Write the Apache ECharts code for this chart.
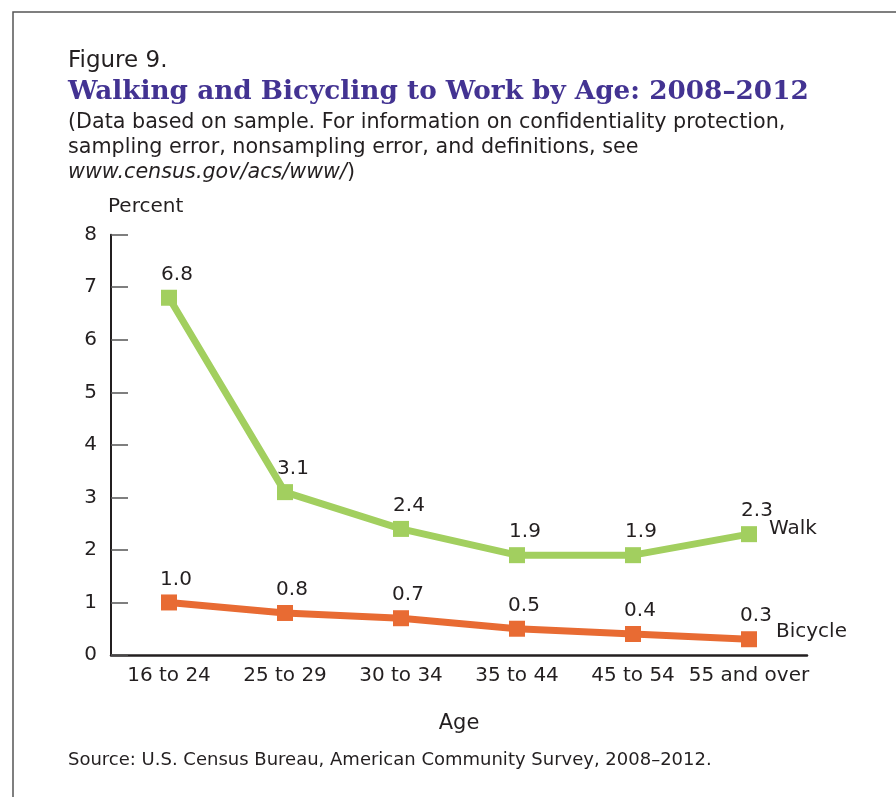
<!DOCTYPE html>
<html><head><meta charset="utf-8">
<script src="https://cdn.jsdelivr.net/npm/echarts@6/dist/echarts.min.js"></script>
<style>html,body{margin:0;padding:0;background:#fff}#c{width:896px;height:797px}</style>
</head><body><div id="c"></div>
<script>
const categories = ['16 to 24','25 to 29','30 to 34','35 to 44','45 to 54','55 and over'];
const walk = [6.8, 3.1, 2.4, 1.9, 1.9, 2.3];
const bicycle = [1.0, 0.8, 0.7, 0.5, 0.4, 0.3];
const yTicks = [0,1,2,3,4,5,6,7,8];

const SANS = '"DejaVu Sans", "Noto Sans", sans-serif';
const TXT = '#231f20';
const chart = echarts.init(document.getElementById('c'), null, {renderer:'canvas'});

function txt(x, y, text, size, extra) {
  return Object.assign({type:'text', x, y, style:Object.assign({text, fontSize:size, fontFamily:SANS, fill:TXT, verticalAlign:'middle', align:'left'}, extra||{})});
}

chart.setOption({
  animation:false,
  backgroundColor:'#fff',
  grid:{left:111, right:89, top:234.7, bottom:142, containLabel:false},
  xAxis:{
    type:'category', data:categories, boundaryGap:true,
    axisLine:{show:true, lineStyle:{color:TXT, width:2.5}},
    axisTick:{show:false},
    axisLabel:{color:TXT, fontSize:20, fontFamily:SANS, margin:11, interval:0},
    name:'Age', nameLocation:'middle', nameGap:58,
    nameTextStyle:{color:TXT, fontSize:21, fontFamily:SANS}
  },
  yAxis:{
    type:'value', min:yTicks[0], max:yTicks[yTicks.length-1], interval:1,
    axisLine:{show:true, lineStyle:{color:TXT, width:2}},
    axisTick:{show:true, inside:true, length:17, lineStyle:{color:'#555', width:1.5}},
    axisLabel:{color:TXT, fontSize:20, fontFamily:SANS, margin:14},
    splitLine:{show:false}
  },
  series:[
    {
      name:'Walk', type:'line', data:walk,
      symbol:'rect', symbolSize:16,
      lineStyle:{color:'#a2cf5f', width:7},
      itemStyle:{color:'#a2cf5f'},
      label:{show:true, position:'top', distance:5, offset:[8,0], color:TXT, fontSize:20, fontFamily:SANS,
        formatter:p=>p.value.toFixed(1)},
      endLabel:{show:true, formatter:'Walk', distance:20, offset:[0,-5], color:TXT, fontSize:20, fontFamily:SANS},
      z:3
    },
    {
      name:'Bicycle', type:'line', data:bicycle,
      symbol:'rect', symbolSize:16,
      lineStyle:{color:'#e86b33', width:7},
      itemStyle:{color:'#e86b33'},
      label:{show:true, position:'top', distance:5, offset:[7,0], color:TXT, fontSize:20, fontFamily:SANS,
        formatter:p=>p.value.toFixed(1)},
      endLabel:{show:true, formatter:'Bicycle', distance:27, offset:[0,-7], color:TXT, fontSize:20, fontFamily:SANS},
      z:3
    }
  ],
  graphic:[
    {type:'rect', shape:{x:13, y:12, width:1000, height:1000}, style:{fill:'none', stroke:'#555', lineWidth:1.5}, silent:true},
    txt(68, 61, 'Figure 9.', 23),
    txt(68, 92, 'Walking and Bicycling to Work by Age: 2008\u20132012', 26.3, {fontFamily:'"DejaVu Serif", serif', fontWeight:'bold', fill:'#433392'}),
    txt(68, 123, '(Data based on sample. For information on confidentiality protection,', 20.7),
    txt(68, 148, 'sampling error, nonsampling error, and definitions, see', 20.7),
    {type:'text', x:68, y:173, style:{
      text:'{i|www.census.gov/acs/www/}{n|)}', verticalAlign:'middle', align:'left',
      rich:{i:{fontSize:20.7, fontFamily:SANS, fontStyle:'italic', fill:TXT, color:TXT}, n:{fontSize:20.7, fontFamily:SANS, fill:TXT, color:TXT}}
    }},
    txt(108, 207, 'Percent', 20),
    txt(68, 760, 'Source: U.S. Census Bureau, American Community Survey, 2008\u20132012.', 18)
  ]
});
</script></body></html>
